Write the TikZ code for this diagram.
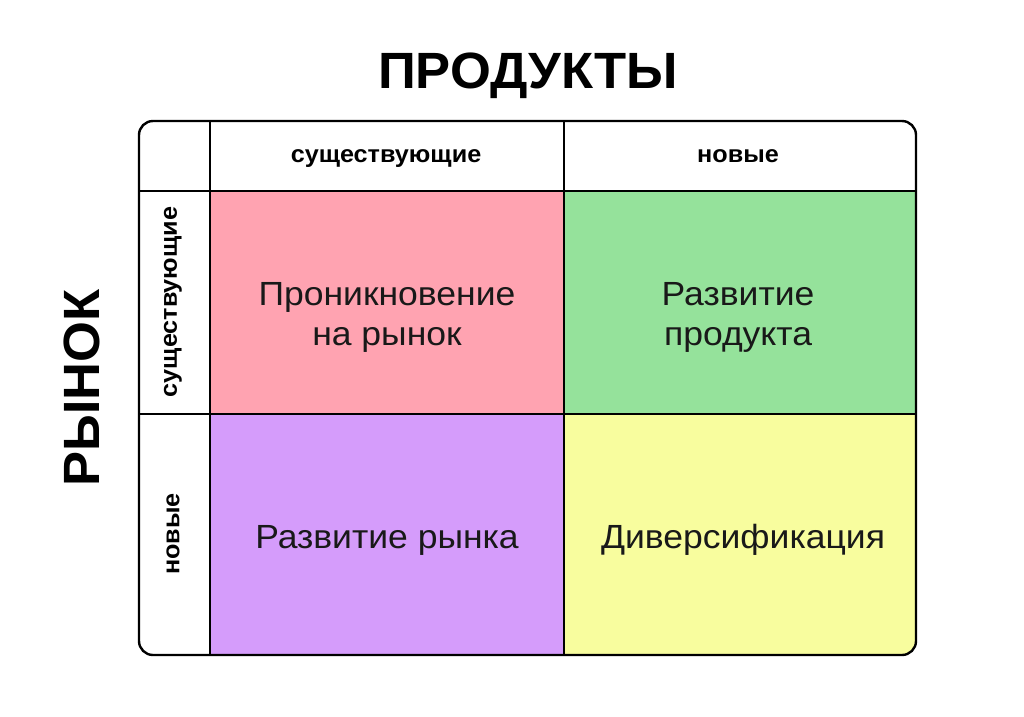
\documentclass[tikz,border=0pt]{standalone}
\usepackage{fontspec}
\setmainfont{Liberation Sans}
\definecolor{cpink}{RGB}{255,163,177}
\definecolor{cgreen}{RGB}{149,226,155}
\definecolor{cpurple}{RGB}{213,156,251}
\definecolor{cyellow}{RGB}{248,253,158}
\begin{document}
\begin{tikzpicture}[x=1pt,y=-1pt,
  grid/.style={line width=2.4pt,draw=black},
  celltext/.style={font=\fontsize{33.5}{40}\selectfont\addfontfeature{FakeStretch=1.06},align=center,text=black!90},
  headtext/.style={font=\fontsize{24}{28}\selectfont\bfseries\addfontfeature{FakeStretch=1.05}},
  bigtitle/.style={font=\fontsize{51}{60}\selectfont\bfseries\addfontfeature{FakeStretch=1.03}}]
\useasboundingbox[fill=white] (0,0) rectangle (1024,716);
% cell fills
\fill[cpink] (210,191) rectangle (564,414);
\fill[cgreen] (564,191) rectangle (916,414);
\fill[cpurple] (210,414) rectangle (564,655);
\fill[cyellow, rounded corners=14pt] (564,414) -- (916,414) -- (916,655) -- (564,655) -- cycle;
\fill[cyellow] (564,414) rectangle (900,655);
\fill[cyellow] (564,414) rectangle (916,640);
% grid
\draw[grid, rounded corners=14pt] (139,121) rectangle (916,655);
\draw[grid] (210,121) -- (210,655);
\draw[grid] (564,121) -- (564,655);
\draw[grid] (139,191) -- (916,191);
\draw[grid] (139,414) -- (916,414);
% titles
\node[bigtitle, anchor=base] (prod) at (528,88) {ПРОДУКТЫ};
\node[bigtitle, rotate=90] (market) at (82,388) {РЫНОК};
% headers
\node[headtext, anchor=base] (h1) at (386,162) {существующие};
\node[headtext, anchor=base] (h2) at (738,162) {новые};
\node[headtext, rotate=90] (r1) at (173,302) {существующие};
\node[headtext, rotate=90] (r2) at (173,534) {новые};
% cells
\node[celltext] (c11) at (387,317) {Проникновение\\на рынок};
\node[celltext] (c12) at (738,317) {Развитие\\продукта};
\node[celltext] (c21) at (387,540) {Развитие рынка};
\node[celltext] (c22) at (743,540) {Диверсификация};
\end{tikzpicture}
\end{document}
